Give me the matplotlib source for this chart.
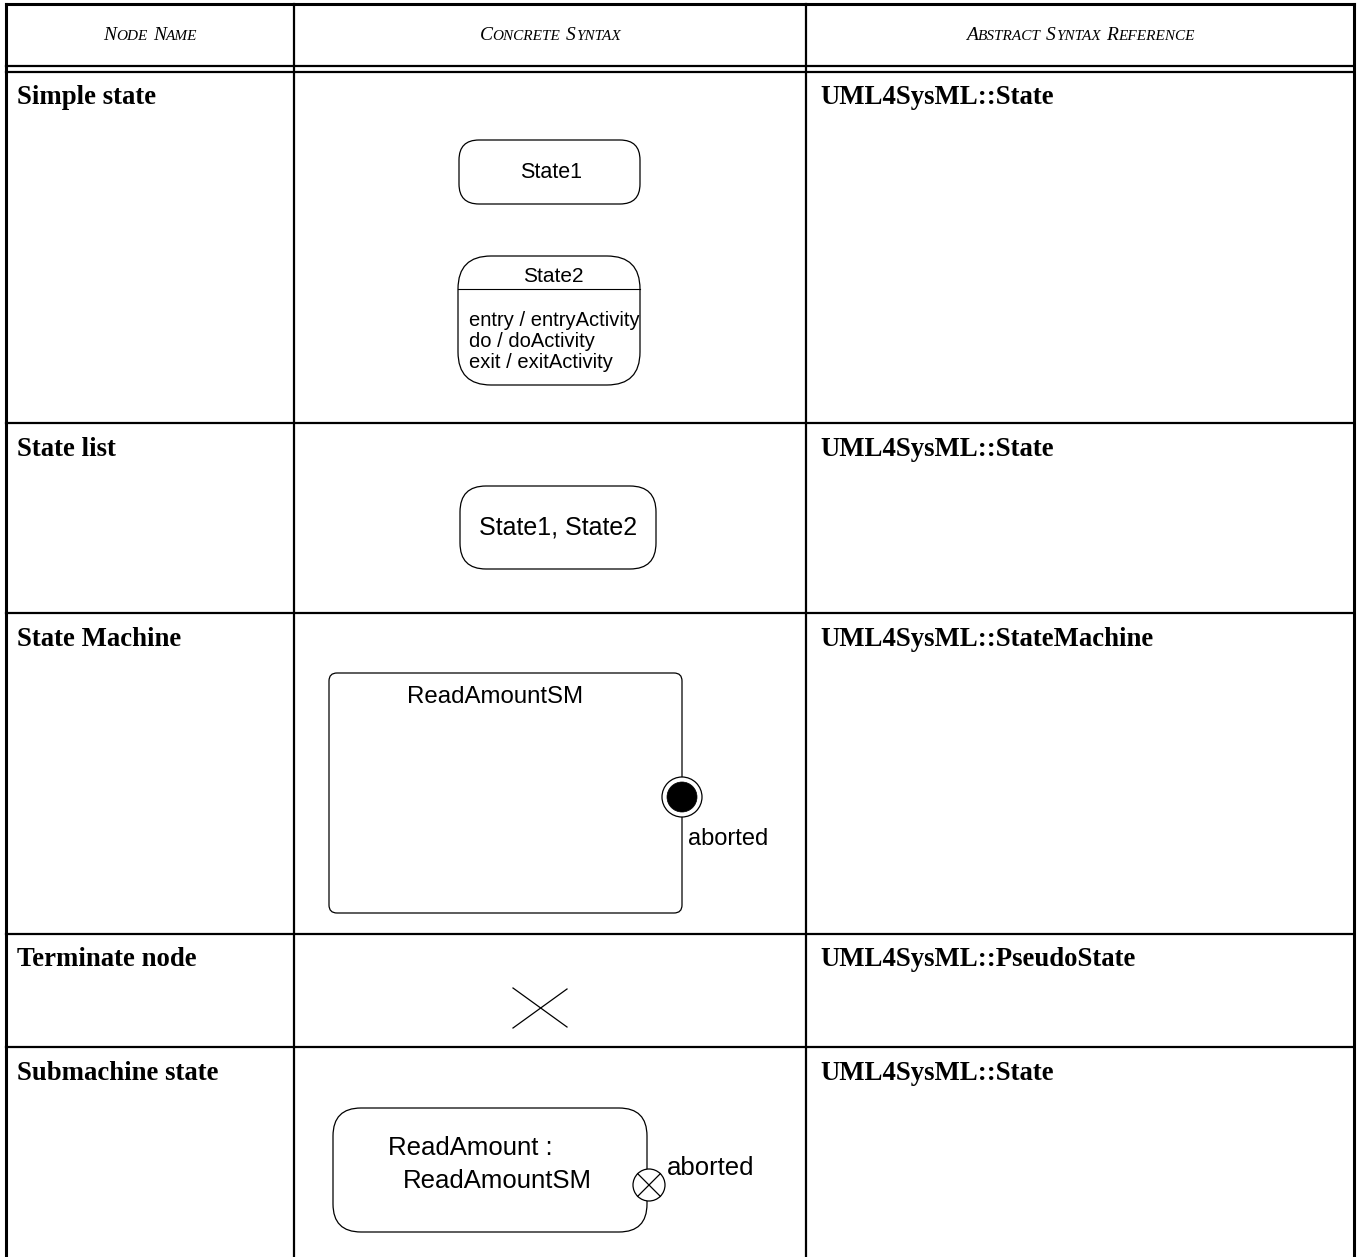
import matplotlib.pyplot as plt
from matplotlib.patches import FancyBboxPatch, Circle
from matplotlib.offsetbox import TextArea, HPacker, AnnotationBbox

# table content
headers = ["Node Name", "Concrete Syntax", "Abstract Syntax Reference"]
row_names = ["Simple state", "State list", "State Machine", "Terminate node", "Submachine state"]
abstract_refs = ["UML4SysML::State", "UML4SysML::State", "UML4SysML::StateMachine",
                 "UML4SysML::PseudoState", "UML4SysML::State"]
state2_activities = ["entry / entryActivity", "do / doActivity", "exit / exitActivity"]

# table geometry (pixels)
col_edges = [6, 294, 806, 1354]
row_edges = [72, 423, 613, 934, 1047, 1257]

SERIF = "Liberation Serif"
SANS = "Liberation Sans"

fig = plt.figure(figsize=(13.58, 12.57), dpi=100)
ax = fig.add_axes([0, 0, 1, 1])
ax.set_xlim(0, 1358)
ax.set_ylim(1257, 0)
ax.axis("off")

# grid lines
lw = 1.6
ax.plot([col_edges[0], col_edges[-1]], [4, 4], color="black", lw=2.2)
ax.plot([col_edges[0], col_edges[-1]], [66, 66], color="black", lw=lw)
for y in row_edges[:-1]:
    ax.plot([col_edges[0], col_edges[-1]], [y, y], color="black", lw=lw)
for i, x in enumerate(col_edges):
    ax.plot([x, x], [4, 1257], color="black", lw=2.2 if i in (0, 3) else lw)


def small_caps(text, x, y, big=14, small=11):
    words = []
    for w in text.split():
        up = w.upper()
        parts = [TextArea(up[0], textprops=dict(fontsize=big, family=SERIF, style="italic"))]
        if len(up) > 1:
            parts.append(TextArea(up[1:], textprops=dict(fontsize=small, family=SERIF, style="italic")))
        words.append(HPacker(children=parts, align="baseline", pad=0, sep=0))
    box = HPacker(children=words, align="baseline", pad=0, sep=4)
    ab = AnnotationBbox(box, (x, y), frameon=False, box_alignment=(0.5, 0.5), pad=0)
    ax.add_artist(ab)


for i, h in enumerate(headers):
    small_caps(h, (col_edges[i] + col_edges[i + 1]) / 2, 35)

for i, (name, ref) in enumerate(zip(row_names, abstract_refs)):
    y = row_edges[i] + 26
    ax.text(17, y, name, fontsize=19.3, family=SERIF, weight="bold", va="center", ha="left")
    ax.text(820, y, ref, fontsize=19.3, family=SERIF, weight="bold", va="center", ha="left")


def rbox(x0, y0, x1, y1, r):
    p = FancyBboxPatch((x0, y0), x1 - x0, y1 - y0,
                       boxstyle=f"round,pad=0,rounding_size={r}",
                       fc="white", ec="black", lw=0.9)
    ax.add_patch(p)


# simple states
rbox(459, 140, 640, 204, 20)
ax.text(551, 172, "State1", fontsize=15.5, family=SANS, ha="center", va="center")
rbox(458, 256, 640, 385, 33)
ax.plot([458, 640], [289, 289], color="black", lw=0.8)
ax.text(553, 277, "State2", fontsize=15, family=SANS, ha="center", va="center")
for k, line in enumerate(state2_activities):
    ax.text(469, 321 + k * 20.5, line, fontsize=14.5, family=SANS, ha="left", va="center")

# state list
rbox(460, 486, 656, 569, 26)
ax.text(558, 528, "State1, State2", fontsize=18, family=SANS, ha="center", va="center")

# state machine
rbox(329, 673, 682, 913, 8)
ax.text(495, 697, "ReadAmountSM", fontsize=17.3, family=SANS, ha="center", va="center")
ax.add_patch(Circle((682, 797), 20, fc="white", ec="black", lw=0.9, zorder=3))
ax.add_patch(Circle((682, 797), 15, fc="black", ec="black", lw=0.5, zorder=4))
ax.text(728, 839, "aborted", fontsize=17, family=SANS, ha="center", va="center")

# terminate node
ax.plot([513, 567], [988, 1027], color="black", lw=0.9)
ax.plot([513, 567], [1028, 989], color="black", lw=0.9)

# submachine state
rbox(333, 1108, 647, 1232, 28)
ax.text(388, 1148, "ReadAmount :", fontsize=18.5, family=SANS, ha="left", va="center")
ax.text(403, 1181, "ReadAmountSM", fontsize=18.5, family=SANS, ha="left", va="center")
ax.add_patch(Circle((649, 1185), 16, fc="white", ec="black", lw=0.9, zorder=3))
d = 16 * 0.7071
ax.plot([649 - d, 649 + d], [1185 - d, 1185 + d], color="black", lw=0.9, zorder=4)
ax.plot([649 - d, 649 + d], [1185 + d, 1185 - d], color="black", lw=0.9, zorder=4)
ax.text(667, 1168, "aborted", fontsize=18.5, family=SANS, ha="left", va="center")

fig.savefig("out.png", dpi=100, facecolor="white")
